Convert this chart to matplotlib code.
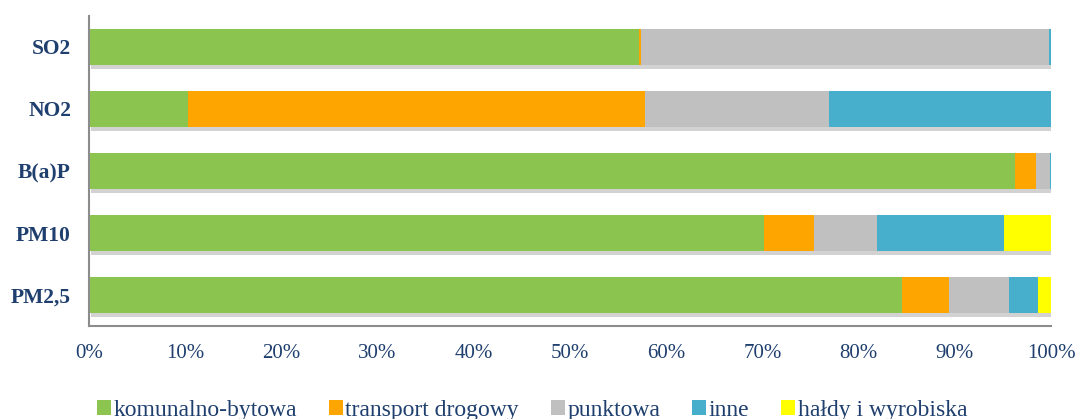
import numpy as np
import matplotlib
matplotlib.use("Agg")
import matplotlib.pyplot as plt
import matplotlib.patheffects as pe
from matplotlib.patches import Patch

# pollutants, top to bottom
categories = ["SO2", "NO2", "B(a)P", "PM10", "PM2,5"]

# share of each source in total emission [%]
komunalno_bytowa = [57.2, 10.3, 96.3, 70.2, 84.5]
transport_drogowy = [0.2, 47.5, 2.1, 5.2, 4.9]
punktowa = [42.4, 19.1, 1.5, 6.5, 6.2]
inne = [0.2, 23.1, 0.1, 13.2, 3.0]
haldy = [0.0, 0.0, 0.0, 4.9, 1.4]

series = [
    ("komunalno-bytowa", komunalno_bytowa, "#8BC550"),
    ("transport drogowy", transport_drogowy, "#FFA500"),
    ("punktowa", punktowa, "#C0C0C0"),
    ("inne", inne, "#47AFCC"),
    ("hałdy i wyrobiska", haldy, "#FFFF00"),
]

plt.rcParams['font.family'] = ['Liberation Serif', 'DejaVu Serif']
text_color = "#1F3F6E"

fig = plt.figure(figsize=(10.78, 4.19), dpi=100)
ax = fig.add_axes([89 / 1078, 1 - 326 / 419, (1051 - 89) / 1078, (326 - 16) / 419])

y = np.arange(len(categories))
left = np.zeros(len(categories))
# soft drop shadow under the bars, like the office chart
shadow = [pe.SimplePatchShadow(offset=(1.5, -3), shadow_rgbFace="#808080", alpha=0.35), pe.Normal()]

for name, vals, col in series:
    vals = np.array(vals)
    bars = ax.barh(y, vals, left=left, height=0.58, color=col, edgecolor="none", label=name)
    for b in bars:
        b.set_path_effects(shadow)
    left += vals

ax.set_ylim(len(categories) - 0.5, -0.5)
ax.set_xlim(0, 100)
ax.set_yticks(y)
ax.set_yticklabels(categories, fontsize=15.5, fontweight="bold", color=text_color)
ax.set_xticks(np.arange(0, 101, 10))
ax.set_xticklabels([f"{v}%" for v in range(0, 101, 10)], fontsize=15, color=text_color)
ax.tick_params(axis="y", length=0, pad=13)
ax.tick_params(axis="x", length=0, pad=13)

for s in ["top", "right"]:
    ax.spines[s].set_visible(False)
for s in ["left", "bottom"]:
    ax.spines[s].set_color("#8C8C8C")
    ax.spines[s].set_linewidth(1.5)

handles = [Patch(facecolor=c, edgecolor="none") for _, _, c in series]
labels = [n for n, _, _ in series]
leg = fig.legend(handles, labels, loc="center", bbox_to_anchor=(532 / 1078, 1 - 410 / 419),
                 ncol=5, frameon=False, fontsize=17, handlelength=0.6, handleheight=0.6,
                 handletextpad=0.1, columnspacing=1.35, borderaxespad=0)
for t in leg.get_texts():
    t.set_color(text_color)

fig.savefig("out.png", dpi=100)
